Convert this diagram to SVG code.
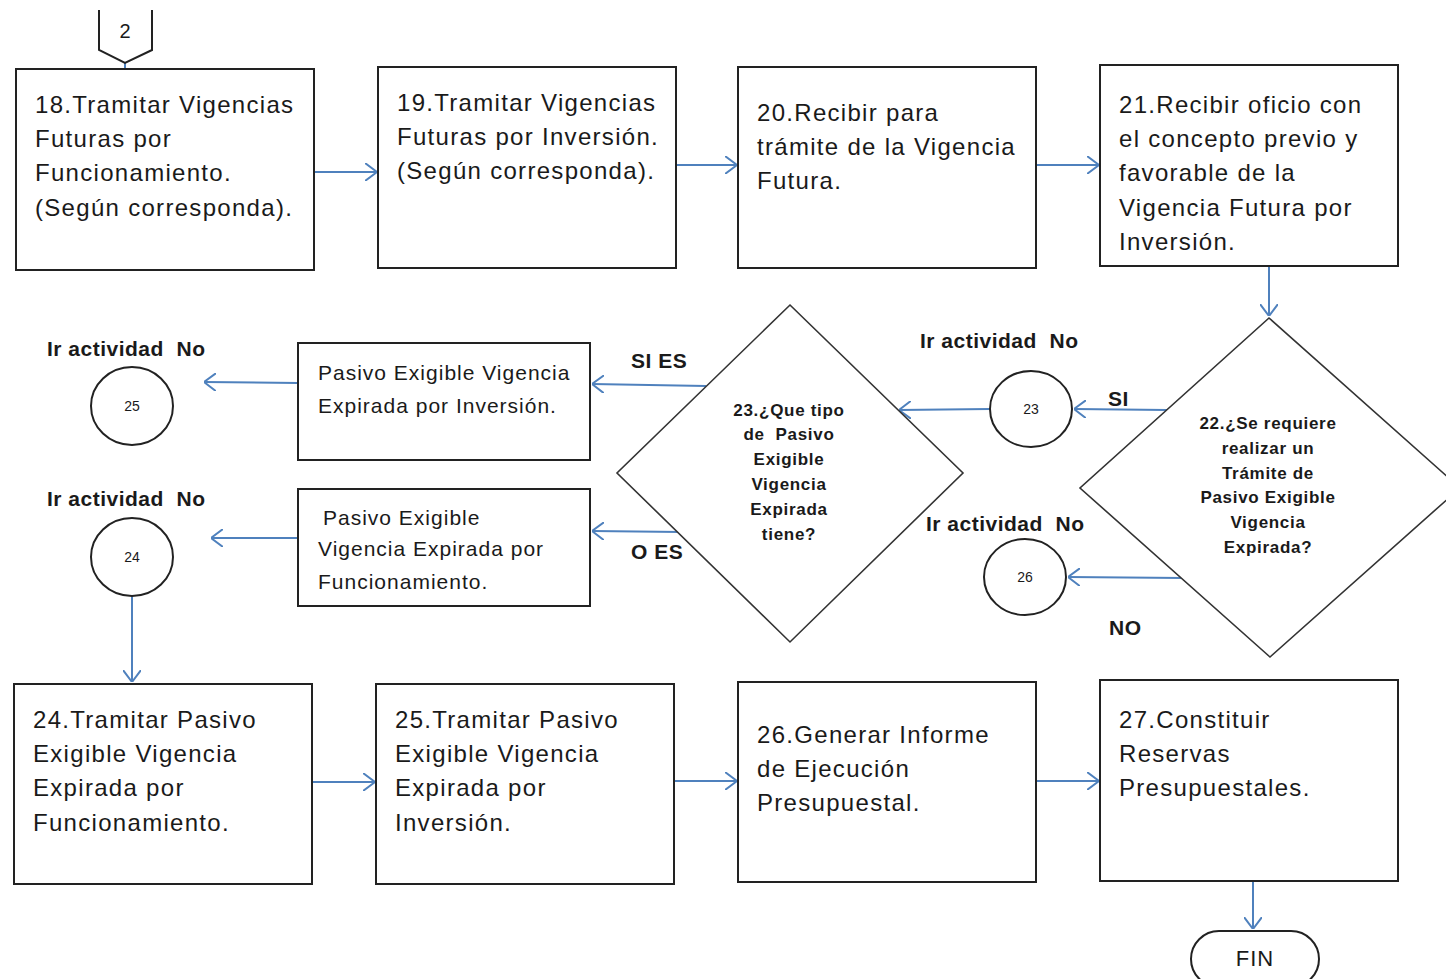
<svg xmlns="http://www.w3.org/2000/svg" width="1446" height="979" viewBox="0 0 1446 979">
<style>
text{white-space:pre}
.box{fill:#fff;stroke:#222;stroke-width:2}
.t{font-family:"Liberation Sans",Arial,sans-serif;font-size:24px;letter-spacing:1.3px;fill:#1a1a1a}
.s{font-family:"Liberation Sans",Arial,sans-serif;font-size:21px;letter-spacing:1px;fill:#1a1a1a}
.b{font-family:"Liberation Sans",Arial,sans-serif;font-size:21px;font-weight:bold;letter-spacing:0.5px;fill:#1a1a1a}
.d{font-family:"Liberation Sans",Arial,sans-serif;font-size:17px;font-weight:bold;letter-spacing:0.7px;fill:#1a1a1a;text-anchor:middle}
.n{font-family:"Liberation Sans",Arial,sans-serif;font-size:14px;fill:#1a1a1a;text-anchor:middle}
.c{fill:none;stroke:#4F81BD;stroke-width:2;marker-end:url(#ah)}
</style>
<defs>
<marker id="ah" viewBox="0 0 12 18" refX="12" refY="9" markerWidth="12" markerHeight="18" markerUnits="userSpaceOnUse" orient="auto">
<path d="M0,0 L12,9 L0,18" fill="none" stroke="#4F81BD" stroke-width="2"/>
</marker>
</defs>
<rect width="1446" height="979" fill="#fff"/>

<g id="connectors">
<line x1="125" y1="63" x2="125" y2="69" stroke="#4F81BD" stroke-width="2"/>
<line class="c" x1="314" y1="172" x2="377" y2="172"/>
<line class="c" x1="676" y1="165" x2="737" y2="165"/>
<line class="c" x1="1036" y1="165" x2="1099" y2="165"/>
<line class="c" x1="1269" y1="266" x2="1269" y2="316"/>
<line class="c" x1="1167" y1="410" x2="1074" y2="409"/>
<line class="c" x1="1183" y1="578" x2="1068" y2="577"/>
<line class="c" x1="990" y1="409" x2="899" y2="410"/>
<line class="c" x1="706" y1="386" x2="592" y2="384"/>
<line class="c" x1="681" y1="532" x2="592" y2="531"/>
<line class="c" x1="298" y1="383" x2="204" y2="382"/>
<line class="c" x1="298" y1="538" x2="211" y2="538"/>
<line class="c" x1="132" y1="596" x2="132" y2="682"/>
<line class="c" x1="312" y1="782" x2="375" y2="782"/>
<line class="c" x1="674" y1="781" x2="737" y2="781"/>
<line class="c" x1="1036" y1="781" x2="1099" y2="781"/>
<line class="c" x1="1253" y1="881" x2="1253" y2="929"/>
</g>

<g id="offpage2">
<path d="M99,10 L99,50 L125,63 L152,50 L152,10" fill="#fff" stroke="#222" stroke-width="2"/>
<text x="125" y="38" font-family="Liberation Sans,Arial,sans-serif" font-size="20" fill="#1a1a1a" text-anchor="middle">2</text>
</g>

<g id="n18">
<rect class="box" x="16" y="69" width="298" height="201"/>
<text class="t" x="35" y="113">18.Tramitar Vigencias</text>
<text class="t" x="35" y="147">Futuras por</text>
<text class="t" x="35" y="181">Funcionamiento.</text>
<text class="t" x="35" y="216">(Según corresponda).</text>
</g>
<g id="n19">
<rect class="box" x="378" y="67" width="298" height="201"/>
<text class="t" x="397" y="111">19.Tramitar Vigencias</text>
<text class="t" x="397" y="145">Futuras por Inversión.</text>
<text class="t" x="397" y="179">(Según corresponda).</text>
</g>
<g id="n20">
<rect class="box" x="738" y="67" width="298" height="201"/>
<text class="t" x="757" y="121">20.Recibir para</text>
<text class="t" x="757" y="155">trámite de la Vigencia</text>
<text class="t" x="757" y="189">Futura.</text>
</g>
<g id="n21">
<rect class="box" x="1100" y="65" width="298" height="201"/>
<text class="t" x="1119" y="113">21.Recibir oficio con</text>
<text class="t" x="1119" y="147">el concepto previo y</text>
<text class="t" x="1119" y="181">favorable de la</text>
<text class="t" x="1119" y="216">Vigencia Futura por</text>
<text class="t" x="1119" y="250">Inversión.</text>
</g>

<g id="n22">
<path d="M1269,318 L1460,488 L1270,657 L1080,488 Z" fill="#fff" stroke="#333" stroke-width="1.6"/>
<text class="d" x="1268" y="429">22.¿Se requiere</text>
<text class="d" x="1268" y="454">realizar un</text>
<text class="d" x="1268" y="479">Trámite de</text>
<text class="d" x="1268" y="503">Pasivo Exigible</text>
<text class="d" x="1268" y="528">Vigencia</text>
<text class="d" x="1268" y="553">Expirada?</text>
</g>
<text class="b" x="1108" y="406">SI</text>
<text class="b" x="1109" y="635">NO</text>

<g id="n23">
<path d="M790,305 L963,473 L790,642 L617,473 Z" fill="#fff" stroke="#333" stroke-width="1.6"/>
<text class="d" x="789" y="416">23.¿Que tipo</text>
<text class="d" x="789" y="440">de  Pasivo</text>
<text class="d" x="789" y="465">Exigible</text>
<text class="d" x="789" y="490">Vigencia</text>
<text class="d" x="789" y="515">Expirada</text>
<text class="d" x="789" y="540">tiene?</text>
</g>
<text class="b" x="631" y="368">SI ES</text>
<text class="b" x="631" y="559">O ES</text>

<g id="c23">
<text class="b" x="920" y="348">Ir actividad  No</text>
<ellipse cx="1031" cy="409" rx="41" ry="38" fill="#fff" stroke="#222" stroke-width="2"/>
<text class="n" x="1031" y="414">23</text>
</g>
<g id="c26">
<text class="b" x="926" y="531">Ir actividad  No</text>
<ellipse cx="1025" cy="577" rx="41" ry="38" fill="#fff" stroke="#222" stroke-width="2"/>
<text class="n" x="1025" y="582">26</text>
</g>
<g id="c25">
<text class="b" x="47" y="356">Ir actividad  No</text>
<ellipse cx="132" cy="406" rx="41" ry="39" fill="#fff" stroke="#222" stroke-width="2"/>
<text class="n" x="132" y="411">25</text>
</g>
<g id="c24">
<text class="b" x="47" y="506">Ir actividad  No</text>
<ellipse cx="132" cy="557" rx="41" ry="39" fill="#fff" stroke="#222" stroke-width="2"/>
<text class="n" x="132" y="562">24</text>
</g>

<g id="pInv">
<rect class="box" x="298" y="343" width="292" height="117"/>
<text class="s" x="318" y="380">Pasivo Exigible Vigencia</text>
<text class="s" x="318" y="413">Expirada por Inversión.</text>
</g>
<g id="pFun">
<rect class="box" x="298" y="489" width="292" height="117"/>
<text class="s" x="323" y="525">Pasivo Exigible</text>
<text class="s" x="318" y="556">Vigencia Expirada por</text>
<text class="s" x="318" y="589">Funcionamiento.</text>
</g>

<g id="n24">
<rect class="box" x="14" y="684" width="298" height="200"/>
<text class="t" x="33" y="728">24.Tramitar Pasivo</text>
<text class="t" x="33" y="762">Exigible Vigencia</text>
<text class="t" x="33" y="796">Expirada por</text>
<text class="t" x="33" y="831">Funcionamiento.</text>
</g>
<g id="n25">
<rect class="box" x="376" y="684" width="298" height="200"/>
<text class="t" x="395" y="728">25.Tramitar Pasivo</text>
<text class="t" x="395" y="762">Exigible Vigencia</text>
<text class="t" x="395" y="796">Expirada por</text>
<text class="t" x="395" y="831">Inversión.</text>
</g>
<g id="n26">
<rect class="box" x="738" y="682" width="298" height="200"/>
<text class="t" x="757" y="743">26.Generar Informe</text>
<text class="t" x="757" y="777">de Ejecución</text>
<text class="t" x="757" y="811">Presupuestal.</text>
</g>
<g id="n27">
<rect class="box" x="1100" y="680" width="298" height="201"/>
<text class="t" x="1119" y="728">27.Constituir</text>
<text class="t" x="1119" y="762">Reservas</text>
<text class="t" x="1119" y="796">Presupuestales.</text>
</g>

<g id="fin">
<rect x="1191" y="931" width="128" height="56" rx="28" fill="#fff" stroke="#222" stroke-width="2"/>
<text x="1255" y="966" font-family="Liberation Sans,Arial,sans-serif" font-size="22" letter-spacing="1" fill="#1a1a1a" text-anchor="middle">FIN</text>
</g>
</svg>
